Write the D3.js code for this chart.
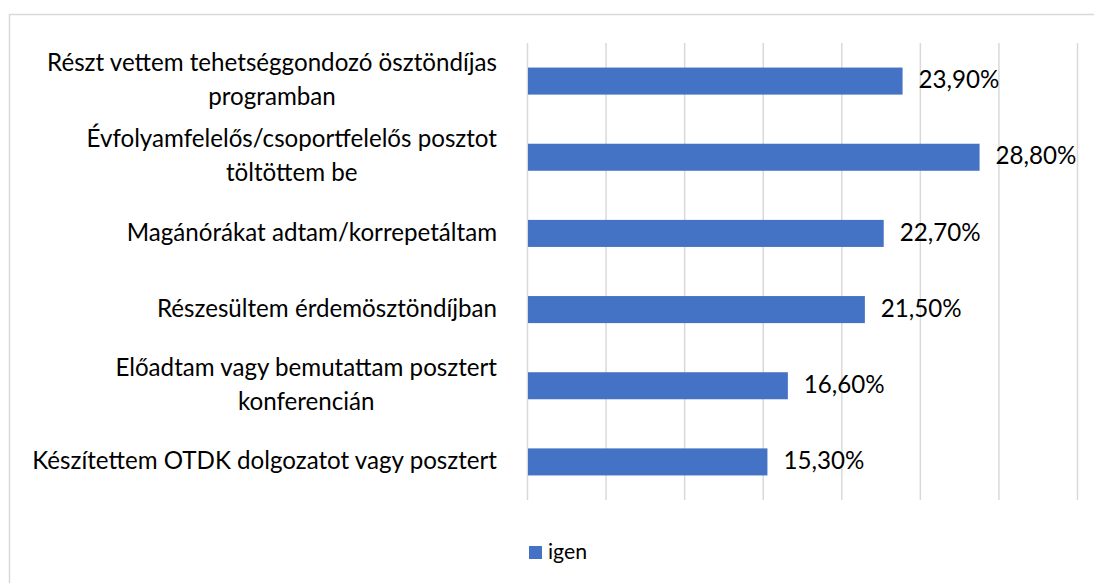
<!DOCTYPE html>
<html>
<head>
<meta charset="utf-8">
<script src="https://cdn.jsdelivr.net/npm/d3@7"></script>
<style>
  html, body { margin: 0; padding: 0; background: #fff; }
  svg { display: block; }
  text { font-family: Lato, "Open Sans", "Noto Sans", sans-serif; fill: #000; }
</style>
</head>
<body>
<svg id="chart" width="1094" height="583"></svg>
<script>
// ---- data ----
const categories = [
  ["Részt vettem tehetséggondozó ösztöndíjas", "programban"],
  ["Évfolyamfelelős/csoportfelelős posztot", "töltöttem be"],
  ["Magánórákat adtam/korrepetáltam"],
  ["Részesültem érdemösztöndíjban"],
  ["Előadtam vagy bemutattam posztert", "konferencián"],
  ["Készítettem OTDK dolgozatot vagy posztert"]
];
const values = [23.9, 28.8, 22.7, 21.5, 16.6, 15.3];
const valueLabels = ["23,90%", "28,80%", "22,70%", "21,50%", "16,60%", "15,30%"];
const xTicks = [0, 5, 10, 15, 20, 25, 30, 35];
const seriesName = "igen";

// ---- layout ----
const W = 1094, H = 583;
const plot = { left: 527, right: 1077, top: 43, bottom: 500 };
const barColor = "#4472C4";
const gridColor = "#d9d9d9";

const svg = d3.select("#chart");

// chart border
svg.append("rect")
  .attr("x", 9.5).attr("y", 14.5)
  .attr("width", W + 10).attr("height", H + 10)
  .attr("fill", "none").attr("stroke", gridColor).attr("stroke-width", 1.5);

// font size fitting (Calibri-like width)
const probe = svg.append("text").attr("font-size", 100).text("Készítettem OTDK dolgozatot vagy posztert");
const probeW = probe.node().getComputedTextLength();
probe.remove();
const fs = 100 * 465 / probeW;

const x = d3.scaleLinear().domain([0, 35]).range([plot.left, plot.right]);
const y = d3.scaleBand().domain(d3.range(categories.length))
  .range([plot.top, plot.bottom]).paddingInner(0.645).paddingOuter(0.3225);

// gridlines via axis
const gx = svg.append("g")
  .attr("transform", `translate(0,${plot.bottom})`)
  .call(d3.axisBottom(x).tickValues(xTicks).tickSize(plot.bottom - plot.top).tickFormat(""));
gx.select(".domain").remove();
gx.selectAll(".tick line")
  .attr("y2", -(plot.bottom - plot.top))
  .attr("stroke", gridColor).attr("stroke-width", 1.5);

// bars
svg.append("g").selectAll("rect").data(values).join("rect")
  .attr("x", x(0) + 1)
  .attr("y", (d, i) => y(i))
  .attr("width", d => x(d) - x(0) - 1)
  .attr("height", y.bandwidth())
  .attr("fill", barColor);

// value labels
svg.append("g").selectAll("text").data(values).join("text")
  .attr("x", d => x(d) + 16)
  .attr("y", (d, i) => y(i) + y.bandwidth() / 2 + fs * 0.3)
  .attr("font-size", fs)
  .text((d, i) => valueLabels[i]);

// category labels (block right aligned, lines centered)
const labelRight = 497;
const lineH = 34;
categories.forEach((lines, i) => {
  const cy = y(i) + y.bandwidth() / 2;
  const g = svg.append("g");
  const texts = lines.map((ln, k) => g.append("text")
    .attr("font-size", fs)
    .attr("y", cy + fs * 0.3 + (k - (lines.length - 1) / 2) * lineH)
    .text(ln));
  const maxW = d3.max(texts, t => t.node().getComputedTextLength());
  const center = labelRight - maxW / 2;
  texts.forEach(t => t.attr("x", center).attr("text-anchor", "middle"));
});

// legend
const lfs = fs * 0.88;
svg.append("rect").attr("x", 529).attr("y", 546).attr("width", 13).attr("height", 13).attr("fill", barColor);
svg.append("text").attr("x", 548).attr("y", 559).attr("font-size", lfs).text(seriesName);
</script>
</body>
</html>
